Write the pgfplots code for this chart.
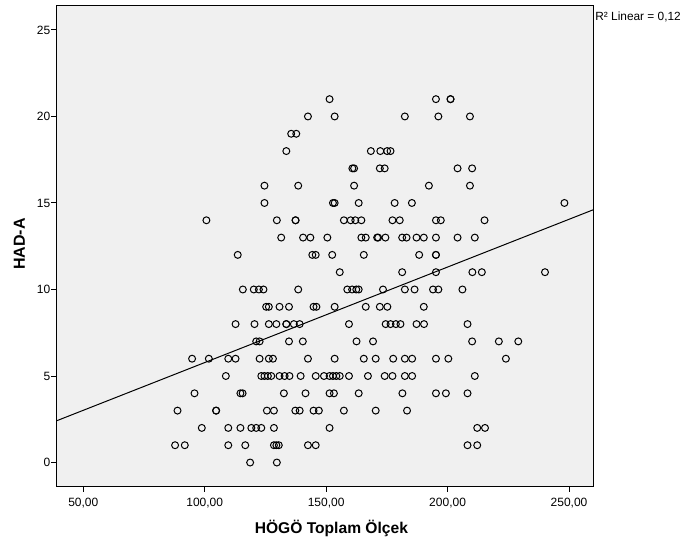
\documentclass[border=0pt]{standalone}
\usepackage{pgfplots}
\pgfplotsset{compat=1.18}
\usepackage{pgfplotstable}
\usepackage{fontspec}
\setmainfont{Liberation Sans}
\definecolor{bg}{HTML}{F0F0F0}
\pgfplotstableread{
x y
151.4 21
195.2 21
201.2 21
201.2 21
142.5 20
153.5 20
182.4 20
196.2 20
209.2 20
135.6 19
137.7 19
133.6 18
168.4 18
172.3 18
175.1 18
176.5 18
160.8 17
161.5 17
172.1 17
174.1 17
204.1 17
210.1 17
124.6 16
138.5 16
161.5 16
192.3 16
209.2 16
124.6 15
152.8 15
153.5 15
163.4 15
178.2 15
185.3 15
248.1 15
100.7 14
129.7 14
137.4 14
137.4 14
157.3 14
160.1 14
162.0 14
164.5 14
177.3 14
180.3 14
195.2 14
197.2 14
215.2 14
131.5 13
140.5 13
143.5 13
150.5 13
164.5 13
166.3 13
171.0 13
171.4 13
174.4 13
181.3 13
183.1 13
187.2 13
190.2 13
195.2 13
204.1 13
211.2 13
113.6 12
144.3 12
145.7 12
152.5 12
165.5 12
188.3 12
195.2 12
195.2 12
155.6 11
181.3 11
195.2 11
210.2 11
214.1 11
240.1 11
115.7 10
120.2 10
122.3 10
124.2 10
138.5 10
158.7 10
160.7 10
162.4 10
163.4 10
173.4 10
182.4 10
186.4 10
194.0 10
196.2 10
206.1 10
125.3 9
126.4 9
130.8 9
134.7 9
144.8 9
146.0 9
153.5 9
166.3 9
172.1 9
175.2 9
190.2 9
112.7 8
120.5 8
126.4 8
129.5 8
133.6 8
133.6 8
136.7 8
139.1 8
159.4 8
174.5 8
176.5 8
178.7 8
180.6 8
187.2 8
190.3 8
208.2 8
121.2 7
122.6 7
134.7 7
140.4 7
162.5 7
169.3 7
210.1 7
221.1 7
229.1 7
94.8 6
101.7 6
109.7 6
112.7 6
122.6 6
126.4 6
128.1 6
142.5 6
153.5 6
165.5 6
170.4 6
177.6 6
182.4 6
185.4 6
195.2 6
200.3 6
224.0 6
108.7 5
123.3 5
124.6 5
126.0 5
127.4 5
130.8 5
132.9 5
134.9 5
139.5 5
145.7 5
149.1 5
151.4 5
152.8 5
154.2 5
155.6 5
159.4 5
167.2 5
174.1 5
177.3 5
182.4 5
185.4 5
211.2 5
95.8 4
114.7 4
115.6 4
132.6 4
141.5 4
151.4 4
153.2 4
163.4 4
181.4 4
195.2 4
199.3 4
208.2 4
88.8 3
104.7 3
104.7 3
125.6 3
128.5 3
137.3 3
139.1 3
144.8 3
147.0 3
157.3 3
170.4 3
183.3 3
98.8 2
109.7 2
114.7 2
119.2 2
121.2 2
123.3 2
128.5 2
151.4 2
212.2 2
215.4 2
87.8 1
91.8 1
109.7 1
116.7 1
128.5 1
129.5 1
130.5 1
142.5 1
145.7 1
208.2 1
212.2 1
118.7 0
129.7 0
}\datatable
\begin{document}
\begin{tikzpicture}
\begin{axis}[
  at={(0,0)}, anchor=south west,
  scale only axis, width=402.45pt, height=360.6pt,
  xmin=39.05, xmax=260, ymin=-1.36, ymax=26.43,
  axis background/.style={fill=bg},
  axis line style={black, line width=0.75pt},
  xtick={50,100,150,200,250},
  xticklabels={{50,00},{100,00},{150,00},{200,00},{250,00}},
  ytick={0,5,10,15,20,25},
  tick align=outside, major tick length=4.2pt,
  tick style={black, line width=0.75pt},
  xtick pos=bottom, ytick pos=left,
  ticklabel style={font=\fontsize{9}{10}\selectfont},
  /pgf/number format/assume math mode=true,
  xticklabel style={anchor=north, inner sep=0pt, yshift=-4.6pt},
  yticklabel style={anchor=east, inner sep=0pt, xshift=-0.4pt},
  clip=false,
]
\addplot[only marks, mark=o, mark size=2.6pt, mark options={black, line width=0.75pt}] table[x=x, y=y] {\datatable};
\addplot[black, line width=0.75pt, mark=none] coordinates {(39.05,2.413) (260,14.609)};
\end{axis}
\node[anchor=base, font=\fontsize{11.7}{13}\selectfont\bfseries] at (206pt,-35.5pt) {HÖGÖ Toplam Ölçek};
\node[rotate=90, anchor=base, font=\fontsize{12}{13}\selectfont\bfseries] at (-23.8pt,181.5pt) {HAD-A};
\node[anchor=base west, inner sep=0pt, font=\fontsize{8.9}{10}\selectfont] at (403.8pt,349.5pt) {R² Linear = 0,12};
\pgfresetboundingbox
\path (-42.5pt,-43.5pt) rectangle (468.95pt,364.5pt);
\end{tikzpicture}
\end{document}
